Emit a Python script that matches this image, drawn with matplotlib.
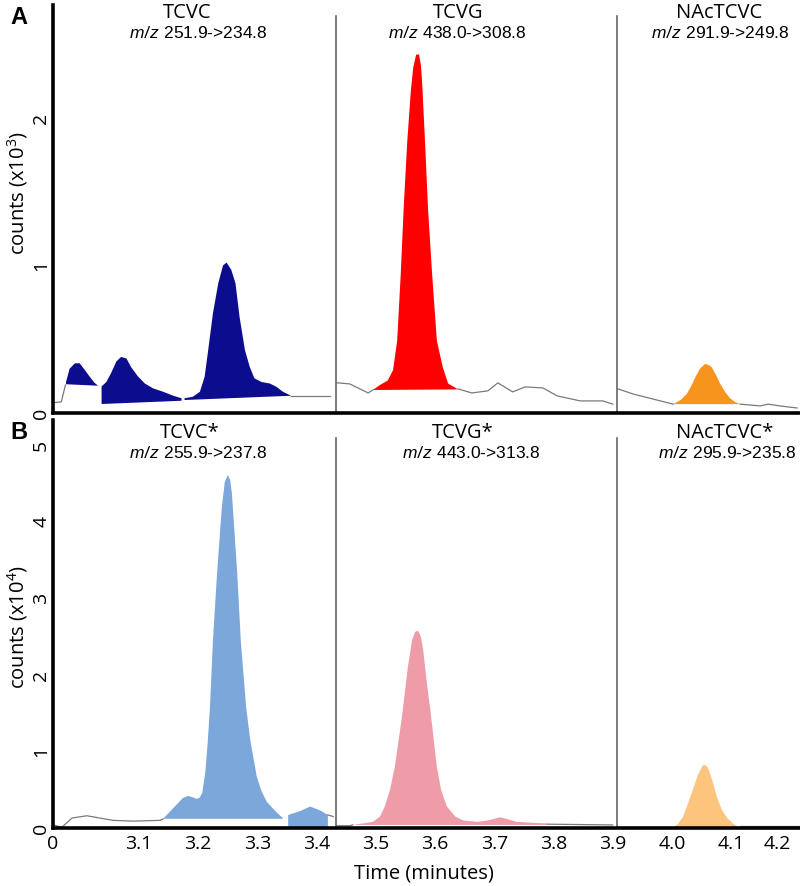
import matplotlib
matplotlib.use('Agg')
import matplotlib.pyplot as plt
import numpy as np

plt.rcParams['font.family'] = ['Open Sans', 'DejaVu Sans']
plt.rcParams['mathtext.fontset'] = 'custom'
plt.rcParams['mathtext.rm'] = 'Open Sans'
plt.rcParams['mathtext.it'] = 'Liberation Sans:italic'

# ---------------- data (time in minutes) ----------------
# panel A, counts x10^3
a_tcvc_line1_t = [2.955, 2.969, 2.976]
a_tcvc_line1_y = [0.07, 0.075, 0.19]
a_tcvc_pk1_t = [2.977, 2.977, 2.983, 2.992, 3.000, 3.009, 3.017, 3.025, 3.031]
a_tcvc_pk1_y = [0.195, 0.21, 0.30, 0.337, 0.337, 0.29, 0.246, 0.205, 0.185]
a_tcvc_pk1_base = [0.195, 0.185]
a_tcvc_pk2_t = [3.037, 3.037, 3.045, 3.053, 3.062, 3.070, 3.079, 3.087, 3.098, 3.110,
                3.124, 3.141, 3.158, 3.172]
a_tcvc_pk2_y = [0.061, 0.18, 0.21, 0.27, 0.35, 0.38, 0.37, 0.31, 0.25, 0.20,
                0.167, 0.144, 0.117, 0.10]
a_tcvc_pk2_base = [0.061, 0.083]
a_tcvc_pk3_t = [3.177, 3.177, 3.191, 3.203, 3.211, 3.217, 3.225, 3.234, 3.242, 3.248,
                3.256, 3.263, 3.270, 3.279, 3.287, 3.295, 3.307, 3.321, 3.332, 3.343, 3.357]
a_tcvc_pk3_y = [0.088, 0.10, 0.11, 0.144, 0.246, 0.427, 0.676, 0.88, 1.00, 1.02,
                0.97, 0.88, 0.65, 0.427, 0.314, 0.235, 0.21, 0.20, 0.178, 0.144, 0.117]
a_tcvc_pk3_base = [0.088, 0.117]
a_tcvc_line2_t = [3.357, 3.422]
a_tcvc_line2_y = [0.117, 0.117]

a_tcvg_line1_t = [3.434, 3.456, 3.487, 3.495]
a_tcvg_line1_y = [0.205, 0.197, 0.136, 0.156]
a_tcvg_pk_t = [3.495, 3.507, 3.520, 3.529, 3.536, 3.542, 3.547, 3.553, 3.559, 3.563,
               3.568, 3.573, 3.576, 3.578, 3.583, 3.588, 3.595, 3.603, 3.613, 3.622, 3.639]
a_tcvg_pk_y = [0.156, 0.19, 0.22, 0.29, 0.49, 0.94, 1.39, 1.84, 2.18, 2.34,
               2.43, 2.43, 2.36, 2.25, 1.84, 1.39, 0.94, 0.49, 0.31, 0.20, 0.16]
a_tcvg_pk_base = [0.156, 0.16]
a_tcvg_line2_t = [3.639, 3.662, 3.689, 3.706, 3.731, 3.752, 3.782, 3.806, 3.845, 3.883, 3.900]
a_tcvg_line2_y = [0.163, 0.136, 0.15, 0.204, 0.143, 0.177, 0.17, 0.116, 0.082, 0.082, 0.06]

a_nac_line1_t = [3.909, 3.934, 4.002]
a_nac_line1_y = [0.163, 0.129, 0.06]
a_nac_pk_t = [4.002, 4.015, 4.025, 4.032, 4.039, 4.047, 4.056, 4.062, 4.067, 4.074,
              4.081, 4.090, 4.098, 4.106, 4.115]
a_nac_pk_y = [0.06, 0.09, 0.13, 0.18, 0.24, 0.30, 0.333, 0.325, 0.31, 0.26,
              0.20, 0.14, 0.10, 0.075, 0.06]
a_nac_pk_base = [0.06, 0.06]
a_nac_line2_t = [4.115, 4.149, 4.162, 4.182, 4.211]
a_nac_line2_y = [0.06, 0.048, 0.06, 0.048, 0.034]

# panel B, counts x10^4
b_tcvc_line1_t = [2.955, 2.970, 2.987, 3.012, 3.034, 3.056, 3.090, 3.136, 3.141]
b_tcvc_line1_y = [0.04, 0.01, 0.13, 0.16, 0.13, 0.10, 0.09, 0.10, 0.12]
b_tcvc_pk1_t = [3.141, 3.158, 3.174, 3.183, 3.191, 3.198, 3.203, 3.207, 3.212, 3.216,
                3.220, 3.225, 3.232, 3.240, 3.245, 3.250, 3.254, 3.257, 3.266, 3.272,
                3.281, 3.288, 3.299, 3.307, 3.316, 3.333, 3.343]
b_tcvc_pk1_y = [0.12, 0.26, 0.39, 0.42, 0.40, 0.38, 0.40, 0.46, 0.72, 1.10,
                1.58, 2.45, 3.33, 4.19, 4.52, 4.61, 4.55, 4.37, 3.33, 2.45,
                1.58, 1.15, 0.67, 0.48, 0.34, 0.20, 0.13]
b_tcvc_pk1_base = [0.12, 0.12]
b_tcvc_pk2_t = [3.352, 3.352, 3.372, 3.389, 3.406, 3.419, 3.419]
b_tcvc_pk2_y = [0.01, 0.17, 0.22, 0.28, 0.23, 0.17, 0.01]
b_tcvc_pk2_base = [0.01, 0.01]
b_tcvc_line2_t = [3.419, 3.428]
b_tcvc_line2_y = [0.17, 0.15]

b_tcvg_line1_t = [3.434, 3.456, 3.461]
b_tcvg_line1_y = [0.03, 0.03, 0.04]
b_tcvg_pk_t = [3.461, 3.495, 3.507, 3.515, 3.524, 3.532, 3.544, 3.554, 3.561, 3.566,
               3.571, 3.576, 3.580, 3.586, 3.592, 3.603, 3.610, 3.620, 3.634, 3.647,
               3.671, 3.690, 3.710, 3.725, 3.738, 3.760, 3.789]
b_tcvg_pk_y = [0.04, 0.08, 0.15, 0.28, 0.50, 0.80, 1.45, 2.10, 2.45, 2.56,
               2.58, 2.50, 2.32, 1.90, 1.54, 0.80, 0.50, 0.28, 0.15, 0.10,
               0.08, 0.10, 0.14, 0.11, 0.08, 0.07, 0.06]
b_tcvg_pk_base = [0.04, 0.04]
b_tcvg_line2_t = [3.789, 3.900]
b_tcvg_line2_y = [0.05, 0.04]

b_nac_line1_t = [3.912, 4.002]
b_nac_line1_y = [0.01, 0.01]
b_nac_pk_t = [4.002, 4.010, 4.018, 4.026, 4.035, 4.044, 4.052, 4.057, 4.061, 4.068,
              4.076, 4.084, 4.093, 4.104, 4.115]
b_nac_pk_y = [0.01, 0.05, 0.14, 0.30, 0.50, 0.70, 0.82, 0.82, 0.78, 0.62,
              0.40, 0.24, 0.13, 0.05, 0.01]
b_nac_pk_base = [0.01, 0.01]
b_nac_line2_t = [4.115, 4.216]
b_nac_line2_y = [0.02, 0.02]

segment_edges = [3.433, 3.907]
x_tick_pos = [2.955, 3.1, 3.2, 3.3, 3.4, 3.5, 3.6, 3.7, 3.8, 3.9, 4.0, 4.1, 4.2]
x_tick_labels = ['0', '3.1', '3.2', '3.3', '3.4', '3.5', '3.6', '3.7', '3.8', '3.9', '4.0', '4.1', '4.2']
a_yticks = [0, 1, 2]
b_yticks = [0, 1, 2, 3, 4, 5]

a_names = ['TCVC', 'TCVG', 'NAcTCVC']
a_mz = ['251.9->234.8', '438.0->308.8', '291.9->249.8']
b_names = ['TCVC*', 'TCVG*', 'NAcTCVC*']
b_mz = ['255.9->237.8', '443.0->313.8', '295.9->235.8']

navy = '#0c0c8e'
red = '#ff0000'
orange = '#f7941e'
lblue = '#7ba7da'
pink = '#ee9ca8'
lorange = '#fdc47e'
grey = '#7a7a7a'


def peak(ax, t, y, base, color):
    xs = np.r_[t, t[-1], t[0]]
    ys = np.r_[y, base[1], base[0]]
    ax.fill(xs, ys, color=color, lw=0)


def trace(ax, t, y):
    ax.plot(t, y, color=grey, lw=0.9)


fig = plt.figure(figsize=(8, 8.86), dpi=100)
ax_a = fig.add_axes([53 / 800, 1 - 413 / 886, 747 / 800, 408 / 886])
ax_b = fig.add_axes([53 / 800, 1 - 828 / 886, 747 / 800, 408 / 886])

# panel A
trace(ax_a, a_tcvc_line1_t, a_tcvc_line1_y)
peak(ax_a, a_tcvc_pk1_t, a_tcvc_pk1_y, a_tcvc_pk1_base, navy)
peak(ax_a, a_tcvc_pk2_t, a_tcvc_pk2_y, a_tcvc_pk2_base, navy)
peak(ax_a, a_tcvc_pk3_t, a_tcvc_pk3_y, a_tcvc_pk3_base, navy)
trace(ax_a, a_tcvc_line2_t, a_tcvc_line2_y)
trace(ax_a, a_tcvg_line1_t, a_tcvg_line1_y)
peak(ax_a, a_tcvg_pk_t, a_tcvg_pk_y, a_tcvg_pk_base, red)
trace(ax_a, a_tcvg_line2_t, a_tcvg_line2_y)
trace(ax_a, a_nac_line1_t, a_nac_line1_y)
peak(ax_a, a_nac_pk_t, a_nac_pk_y, a_nac_pk_base, orange)
trace(ax_a, a_nac_line2_t, a_nac_line2_y)

# panel B
trace(ax_b, b_tcvc_line1_t, b_tcvc_line1_y)
peak(ax_b, b_tcvc_pk1_t, b_tcvc_pk1_y, b_tcvc_pk1_base, lblue)
peak(ax_b, b_tcvc_pk2_t, b_tcvc_pk2_y, b_tcvc_pk2_base, lblue)
trace(ax_b, b_tcvc_line2_t, b_tcvc_line2_y)
trace(ax_b, b_tcvg_line1_t, b_tcvg_line1_y)
peak(ax_b, b_tcvg_pk_t, b_tcvg_pk_y, b_tcvg_pk_base, pink)
trace(ax_b, b_tcvg_line2_t, b_tcvg_line2_y)
trace(ax_b, b_nac_line1_t, b_nac_line1_y)
peak(ax_b, b_nac_pk_t, b_nac_pk_y, b_nac_pk_base, lorange)
trace(ax_b, b_nac_line2_t, b_nac_line2_y)

ax_a.set_ylim(0, 2.766)
ax_b.set_ylim(0, 5.33)

for ax, top in [(ax_a, 2.69), (ax_b, 5.09)]:
    for e in segment_edges:
        ax.plot([e, e], [0, top], color='#666666', lw=1.2)
    ax.set_xlim(2.955, 4.216)
    for s in ['top', 'right']:
        ax.spines[s].set_visible(False)
    for s in ['left', 'bottom']:
        ax.spines[s].set_linewidth(2.6)
        ax.spines[s].set_color('black')
    ax.tick_params(length=0, labelsize=14)
    ax.tick_params(axis='y', pad=2)
    ax.tick_params(axis='x', pad=5)

ax_a.set_xticks(x_tick_pos)
ax_a.set_xticklabels([])
ax_b.set_xticks(x_tick_pos)
ax_b.set_xticklabels(x_tick_labels)
# last label sits flush against the right edge
ax_b.get_xticklabels()[-1].set_horizontalalignment('right')
ax_a.set_yticks(a_yticks)
ax_a.set_yticklabels([str(v) for v in a_yticks], rotation=90, va='center')
ax_b.set_yticks(b_yticks)
ax_b.set_yticklabels([str(v) for v in b_yticks], rotation=90, va='center')

# titles
title_x = [187, 458, 719]
b_title_x = [190, 463, 725]
mz_x = [198, 457, 720]
b_mz_x = [198, 471, 727]
for i in range(3):
    fig.text(title_x[i] / 800, 1 - 13 / 886, a_names[i], ha='center', va='center', fontsize=14.5)
    fig.text(mz_x[i] / 800, 1 - 33 / 886, r'$\it{m/z}$ ' + a_mz[i], ha='center', va='center',
             fontsize=12.5, family='Liberation Sans')
    fig.text(b_title_x[i] / 800, 1 - 433 / 886, b_names[i], ha='center', va='center', fontsize=14.5)
    fig.text(b_mz_x[i] / 800, 1 - 453 / 886, r'$\it{m/z}$ ' + b_mz[i], ha='center', va='center',
             fontsize=12.5, family='Liberation Sans')

fig.text(19 / 800, 1 - 17 / 886, 'A', ha='center', va='center', fontsize=17,
         fontweight='bold', family='Liberation Sans')
fig.text(19 / 800, 1 - 432 / 886, 'B', ha='center', va='center', fontsize=17,
         fontweight='bold', family='Liberation Sans')

fig.text(18 / 800, 1 - 193 / 886, r'counts (x10$^3$)', rotation=90, ha='center', va='center', fontsize=14.5)
fig.text(18 / 800, 1 - 627 / 886, r'counts (x10$^4$)', rotation=90, ha='center', va='center', fontsize=14.5)
fig.text(424 / 800, 1 - 873 / 886, 'Time (minutes)', ha='center', va='center', fontsize=14.5)

fig.savefig('out.png', dpi=100)
